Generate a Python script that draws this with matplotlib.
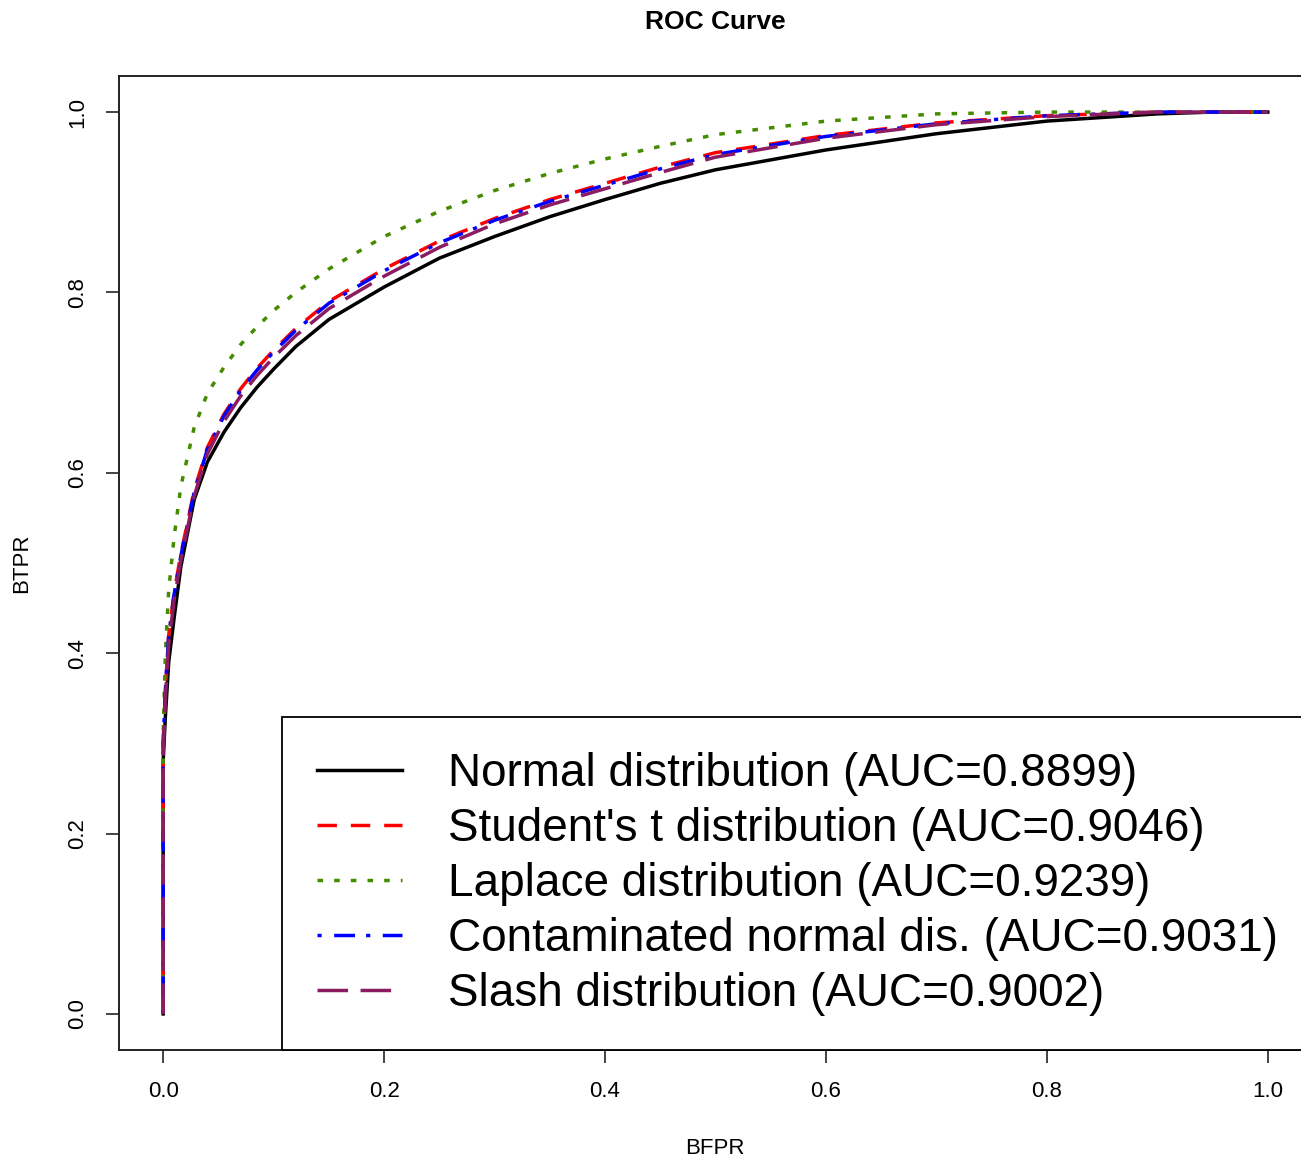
import matplotlib
matplotlib.use("Agg")
import matplotlib.pyplot as plt

plt.rcParams['font.family'] = ['Liberation Sans', 'DejaVu Sans']
plt.rcParams['lines.scale_dashes'] = False

# ROC points (FPR, TPR)
fpr = [0, 0, 0.002, 0.005, 0.01, 0.016, 0.028, 0.04, 0.055, 0.07, 0.085, 0.1,
       0.12, 0.15, 0.2, 0.25, 0.3, 0.35, 0.4, 0.45, 0.5, 0.6, 0.7, 0.8, 0.9,
       0.95, 1.0]
tpr_normal = [0, 0.28, 0.33, 0.39, 0.44, 0.496, 0.57, 0.612, 0.645, 0.672,
              0.695, 0.715, 0.74, 0.77, 0.806, 0.838, 0.862, 0.884, 0.903,
              0.921, 0.936, 0.958, 0.976, 0.99, 0.998, 1.0, 1.0]
tpr_student = [0, 0.30, 0.36, 0.42, 0.468, 0.51, 0.58, 0.628, 0.665, 0.693,
               0.716, 0.736, 0.76, 0.79, 0.826, 0.857, 0.882, 0.903, 0.921,
               0.939, 0.955, 0.974, 0.988, 0.996, 1.0, 1.0, 1.0]
tpr_laplace = [0, 0.31, 0.40, 0.47, 0.53, 0.585, 0.65, 0.688, 0.717, 0.742,
               0.762, 0.78, 0.80, 0.826, 0.862, 0.89, 0.913, 0.932, 0.948,
               0.962, 0.975, 0.99, 0.998, 1.0, 1.0, 1.0, 1.0]
tpr_contam = [0, 0.30, 0.36, 0.42, 0.466, 0.508, 0.578, 0.626, 0.663, 0.691,
              0.714, 0.734, 0.758, 0.788, 0.824, 0.855, 0.880, 0.901, 0.919,
              0.937, 0.953, 0.973, 0.987, 0.996, 1.0, 1.0, 1.0]
tpr_slash = [0, 0.29, 0.35, 0.41, 0.46, 0.503, 0.574, 0.621, 0.657, 0.685,
             0.708, 0.728, 0.752, 0.782, 0.818, 0.850, 0.876, 0.897, 0.915,
             0.933, 0.950, 0.971, 0.986, 0.995, 1.0, 1.0, 1.0]

labels = ["Normal distribution (AUC=0.8899)",
          "Student's t distribution (AUC=0.9046)",
          "Laplace distribution (AUC=0.9239)",
          "Contaminated normal dis. (AUC=0.9031)",
          "Slash distribution (AUC=0.9002)"]
colors = ["black", "#FF0000", "#458B00", "#0000FF", "#8B1C62"]
dashes = [None, (14, 10), (4, 8), (3, 9, 15, 8), (22, 9)]
series = [tpr_normal, tpr_student, tpr_laplace, tpr_contam, tpr_slash]

W, H = 1301, 1158
fig = plt.figure(figsize=(W / 100, H / 100), dpi=100)
ax = fig.add_axes([119 / W, 108 / H, 1193 / W, 974 / H])

for tpr, lab, col, d in zip(series, labels, colors, dashes):
    line, = ax.plot(fpr, tpr, color=col, lw=2.5, label=lab)
    if d is not None:
        line.set_dashes(d)

ax.set_xlim(-0.04, 1.04)
ax.set_ylim(-0.04, 1.04)
ticks = [0, 0.2, 0.4, 0.6, 0.8, 1.0]
tick_labels = ["0.0", "0.2", "0.4", "0.6", "0.8", "1.0"]
ax.set_xticks(ticks)
ax.set_xticklabels(tick_labels)
ax.set_yticks(ticks)
ax.set_yticklabels(tick_labels, rotation=90, va='center')
ax.tick_params(length=9.4, width=1.2, pad=13, labelsize=16, color='#222222')
for s in ax.spines.values():
    s.set_linewidth(1.4)
    s.set_color('#222222')

leg = ax.legend(loc='lower right', bbox_to_anchor=(1, 0), borderaxespad=0,
                fontsize=33, handlelength=1.86, handletextpad=1.0,
                borderpad=0.75, labelspacing=0.24, fancybox=False,
                framealpha=1, edgecolor='black')
leg.get_frame().set_linewidth(1.3)

fig.text(715 / W, 1 - 22 / H, "ROC Curve", ha='center', va='center',
         fontsize=19, fontweight='bold')
fig.text(715 / W, 1 - 1148 / H, "BFPR", ha='center', va='center', fontsize=16)
fig.text(22 / W, 1 - 563 / H, "BTPR", ha='center', va='center', fontsize=16,
         rotation=90)

fig.savefig("out.png", dpi=100)
